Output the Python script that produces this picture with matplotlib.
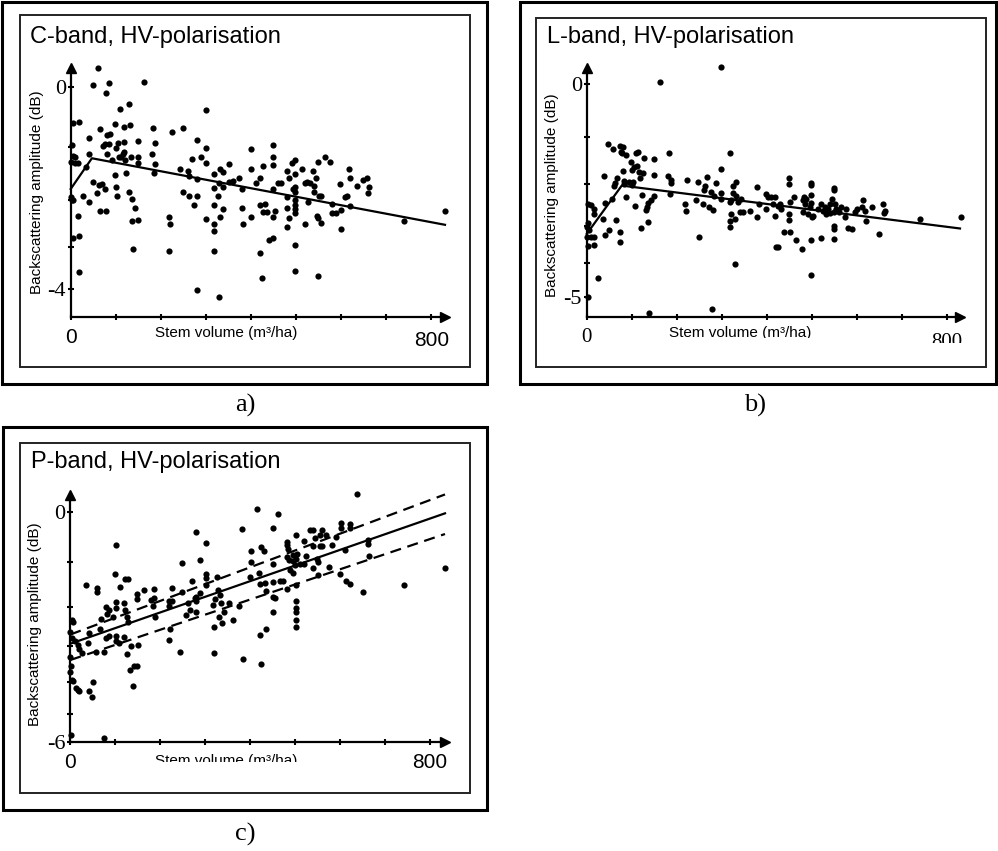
import numpy as np
import matplotlib.pyplot as plt
from matplotlib.patches import Rectangle
from matplotlib.transforms import Bbox, TransformedBbox
from matplotlib.ticker import NullLocator

W, H = 998, 851
SANS = "Liberation Sans"
SERIF = "Liberation Serif"

titles = ["C-band, HV-polarisation", "L-band, HV-polarisation", "P-band, HV-polarisation"]
captions = ["a)", "b)", "c)"]
ylabel = "Backscattering amplitude (dB)"
xlabel = "Stem volume (m³/ha)"
vol_ticks = [0, 100, 200, 300, 400, 500, 600, 700, 800]

# C-band (stem volume m3/ha, backscatter dB)
c_vol = [4, 18, 2, 6, 10, 1, 10, 17, 1, 4,
         2, 17, 4, 18, 18, 27, 35, 41, 41, 41,
         49, 50, 58, 60, 62, 64, 65, 69, 72, 75,
         77, 78, 78, 80, 81, 84, 86, 87, 91, 98,
         98, 100, 101, 103, 105, 108, 109, 111, 115, 118,
         118, 119, 120, 123, 129, 130, 132, 135, 133, 137,
         139, 143, 149, 149, 149, 150, 163, 180, 183, 185,
         188, 188, 219, 220, 219, 224, 242, 248, 248, 261,
         263, 263, 268, 274, 279, 279, 279, 279, 288, 299,
         299, 299, 299, 318, 318, 318, 318, 318, 318, 327,
         329, 329, 331, 331, 337, 337, 338, 350, 350, 361,
         374, 379, 379, 383, 399, 399, 399, 411, 420, 420,
         420, 425, 427, 427, 431, 435, 440, 448, 448, 448,
         448, 449, 449, 453, 460, 466, 479, 479, 479, 479,
         483, 485, 490, 494, 497, 497, 497, 497, 498, 498,
         498, 498, 498, 498, 512, 520, 520, 523, 527, 531,
         538, 539, 539, 545, 547, 549, 549, 549, 551, 556,
         556, 564, 575, 579, 579, 588, 597, 599, 599, 608,
         612, 618, 619, 619, 634, 649, 658, 660, 661, 739,
         830]
c_db = [-0.59, -0.58, -0.97, -1.16, -1.18, -1.28, -1.30, -1.30, -1.95, -2.00,
        -2.01, -2.33, -2.81, -2.76, -3.58, -1.92, -1.38, -0.84, -1.13, -2.05,
        0.04, -1.66, -1.87, 0.30, -1.72, -0.69, -2.23, -1.70, -0.99, -1.80,
        -0.96, -2.23, -0.10, -0.80, -1.13, -0.96, 0.06, -0.78, -1.24, -0.60,
        -1.53, -1.02, -1.76, -1.92, -0.93, -1.19, -0.35, -1.18, -1.13, -0.65,
        -0.92, -1.09, -1.25, -1.49, -0.27, -1.85, -0.62, -1.99, -1.19, -2.43,
        -3.05, -2.16, -0.90, -1.18, -1.30, -2.42, 0.09, -1.13, -0.67, -1.49,
        -0.93, -1.32, -2.35, -2.50, -3.10, -0.75, -1.40, -0.67, -1.84, -1.44,
        -1.54, -1.92, -1.22, -2.10, -0.88, -1.60, -1.92, -4.03, -1.18, -0.37,
        -1.03, -1.30, -2.40, -1.51, -1.78, -2.10, -2.51, -2.65, -3.10, -1.92,
        -1.68, -4.20, -1.41, -2.35, -1.46, -1.76, -2.19, -1.32, -1.66, -1.63,
        -1.57, -1.80, -2.16, -2.51, -1.05, -1.41, -2.35, -1.68, -1.57, -2.10,
        -3.15, -3.72, -1.35, -2.25, -2.09, -2.25, -2.85, -0.97, -1.19, -1.34,
        -1.80, -2.81, -2.35, -2.23, -1.68, -1.68, -1.44, -1.95, -2.16, -2.57,
        -1.57, -2.38, -1.30, -1.79, -1.24, -1.51, -1.76, -1.85, -2.01, -2.10,
        -2.19, -2.28, -2.97, -3.55, -1.41, -1.68, -2.50, -1.66, -2.05, -1.68,
        -1.44, -1.73, -1.85, -1.57, -2.33, -1.27, -2.38, -3.69, -1.92, -1.92,
        -2.48, -1.18, -1.28, -2.09, -2.28, -2.28, -1.70, -2.21, -2.62, -1.95,
        -1.92, -1.41, -1.57, -2.13, -1.73, -1.61, -1.57, -1.87, -1.76, -2.43,
        -2.23]
c_fit_vol = [0, 47, 830]
c_fit_db = [-1.79, -1.21, -2.52]

# L-band
l_vol = [299, 162, 4, 10, 16, 17, 4, 1, 6, 1,
         10, 17, 4, 17, 26, 4, 36, 39, 41, 41,
         48, 50, 56, 58, 60, 62, 65, 68, 73, 75,
         75, 76, 78, 80, 80, 82, 84, 88, 88, 93,
         99, 100, 101, 102, 106, 108, 110, 112, 115, 117,
         119, 121, 123, 125, 128, 131, 133, 136, 137, 143,
         149, 149, 149, 139, 180, 183, 188, 188, 186, 219,
         221, 223, 243, 247, 249, 258, 260, 263, 268, 273,
         277, 278, 280, 283, 288, 299, 299, 299, 318, 319,
         319, 319, 320, 321, 325, 326, 329, 329, 332, 332,
         336, 340, 342, 347, 362, 379, 379, 384, 399, 399,
         403, 410, 414, 418, 419, 421, 425, 425, 429, 433,
         439, 449, 449, 449, 449, 451, 453, 461, 466, 479,
         481, 481, 483, 485, 488, 492, 496, 499, 499, 499,
         499, 499, 499, 501, 503, 514, 520, 522, 525, 529,
         533, 536, 540, 542, 545, 549, 550, 550, 550, 550,
         550, 551, 555, 562, 566, 575, 577, 581, 590, 596,
         600, 611, 614, 618, 620, 634, 650, 659, 661, 664,
         741, 832]
l_db = [0.30, 0.04, -2.46, -2.49, -2.57, -2.69, -2.93, -3.01, -3.10, -3.28,
        -3.29, -3.28, -3.53, -3.48, -4.41, -5.00, -2.83, -1.82, -2.43, -3.23,
        -1.14, -3.10, -2.34, -1.23, -2.03, -1.97, -2.85, -1.87, -3.14, -1.18,
        -3.41, -1.30, -1.33, -1.71, -1.19, -1.92, -1.99, -2.29, -1.37, -1.96,
        -1.51, -1.69, -2.01, -1.96, -1.62, -2.50, -1.33, -1.60, -1.30, -1.72,
        -1.87, -3.04, -2.25, -1.76, -1.42, -2.59, -2.54, -2.90, -2.43, -2.37,
        -1.44, -1.79, -2.27, -5.54, -1.81, -1.32, -1.90, -1.97, -2.22, -2.46,
        -2.62, -1.90, -2.37, -1.94, -3.29, -2.46, -2.13, -2.05, -1.83, -2.53,
        -2.17, -5.41, -2.59, -2.27, -1.97, -1.67, -2.21, -2.35, -1.33, -2.41,
        -2.87, -3.01, -2.69, -2.37, -2.05, -2.19, -4.02, -2.81, -1.94, -2.27,
        -2.41, -2.66, -2.33, -2.66, -2.62, -2.07, -2.77, -2.45, -2.22, -2.58,
        -2.29, -2.29, -2.46, -2.29, -2.75, -3.54, -3.54, -2.51, -2.46, -2.57,
        -3.14, -1.87, -1.99, -2.71, -2.85, -3.16, -2.41, -2.30, -3.35, -3.59,
        -2.37, -2.65, -2.29, -2.45, -2.35, -2.69, -2.54, -1.97, -2.02, -2.25,
        -2.43, -4.34, -3.37, -2.78, -2.75, -2.57, -3.30, -2.45, -2.62, -2.53,
        -2.69, -2.57, -2.46, -2.67, -2.35, -2.09, -2.13, -2.65, -2.99, -3.08,
        -3.32, -2.46, -2.57, -2.65, -2.54, -2.78, -2.57, -3.05, -3.08, -2.65,
        -2.57, -2.54, -2.37, -2.62, -2.86, -2.54, -3.21, -2.45, -2.67, -2.62,
        -2.81, -2.78]
l_fit_vol = [0, 78, 830]
l_fit_db = [-3.20, -2.03, -3.06]

# P-band
p_vol = [637, 414, 462, 381, 280, 301, 601, 601, 622, 622,
         101, 450, 533, 540, 544, 554, 559, 568, 591, 502,
         481, 481, 485, 520, 540, 554, 559, 582, 611, 661,
         661, 663, 401, 401, 425, 430, 288, 249, 450, 481,
         487, 496, 496, 499, 502, 505, 511, 519, 525, 548,
         551, 576, 540, 488, 494, 551, 600, 614, 622, 833,
         742, 651, 481, 502, 420, 421, 433, 436, 450, 450,
         455, 466, 399, 301, 301, 326, 301, 270, 288, 280,
         280, 249, 225, 220, 186, 186, 163, 149, 149, 128,
         121, 99, 110, 59, 59, 36, 101, 119, 121, 102,
         79, 86, 82, 95, 69, 125, 128, 180, 184, 188,
         225, 220, 262, 266, 258, 277, 280, 318, 321, 329,
         332, 336, 341, 352, 331, 338, 362, 319, 375, 436,
         421, 450, 502, 502, 502, 502, 502, 473, 221, 220,
         243, 320, 384, 425, 4, 7, 0, 4, 10, 18,
         19, 27, 39, 42, 58, 65, 75, 79, 86, 102,
         101, 108, 119, 125, 132, 134, 142, 149, 151, 139,
         0, 2, 0, 4, 7, 12, 18, 19, 42, 49,
         50, 2, 74]
p_db = [0.33, 0.05, -0.05, -0.34, -0.40, -0.60, -0.21, -0.32, -0.23, -0.31,
        -0.65, -0.32, -0.35, -0.35, -0.50, -0.44, -0.36, -0.44, -0.48, -0.44,
        -0.58, -0.66, -0.74, -0.56, -0.68, -0.68, -0.68, -0.66, -0.76, -0.54,
        -0.64, -0.87, -0.78, -1.01, -0.70, -0.78, -0.95, -1.03, -1.04, -0.89,
        -0.97, -0.86, -0.99, -1.07, -0.93, -0.83, -1.04, -1.04, -0.87, -0.93,
        -1.01, -1.10, -1.14, -1.18, -1.24, -1.29, -1.25, -1.41, -1.47, -1.12,
        -1.51, -1.66, -1.59, -1.50, -1.23, -1.47, -1.46, -1.64, -1.44, -1.77,
        -1.81, -1.41, -1.32, -1.26, -1.34, -1.32, -1.50, -1.41, -1.68, -1.77,
        -1.86, -1.67, -1.56, -1.88, -1.60, -1.79, -1.62, -1.71, -1.83, -1.36,
        -1.36, -1.26, -1.55, -1.56, -1.67, -1.50, -1.90, -1.92, -2.08, -2.03,
        -2.01, -2.08, -2.18, -2.24, -2.31, -2.24, -2.37, -1.84, -1.98, -2.24,
        -1.88, -1.99, -1.92, -2.08, -2.20, -1.81, -2.14, -1.96, -1.83, -1.61,
        -1.73, -1.92, -2.12, -1.92, -2.26, -2.39, -2.33, -2.51, -1.98, -2.56,
        -2.70, -2.14, -1.88, -2.03, -2.14, -2.33, -2.51, -1.41, -2.54, -2.82,
        -3.16, -3.17, -3.33, -3.49, -2.33, -2.37, -2.62, -2.79, -2.87, -2.96,
        -3.07, -3.19, -2.92, -2.66, -3.14, -2.56, -3.14, -2.79, -2.73, -2.73,
        -2.87, -2.90, -2.76, -3.21, -3.65, -3.00, -3.54, -3.54, -2.96, -4.12,
        -3.28, -3.54, -3.70, -3.95, -3.98, -4.19, -4.24, -4.29, -4.27, -4.45,
        -4.00, -5.74, -5.86]
p_fit_vol = [0, 833]
p_fit_db = [-2.93, -0.03]
p_hi_db = [-2.69, 0.32]
p_lo_db = [-3.37, -0.43]


# the y axes of the original are linear in amplitude, labelled in dB
def amp(d):
    return 10 ** (np.asarray(d, dtype=float) / 20.0)


def to_db(a):
    return 20 * np.log10(np.clip(a, 1e-9, None))


fig = plt.figure(figsize=(W / 100, H / 100), dpi=100)


def frame(x0, y0, x1, y1, lw, color="k"):
    fig.add_artist(Rectangle((x0 / W, 1 - y1 / H), (x1 - x0) / W, (y1 - y0) / H,
                             transform=fig.transFigure, fill=False, lw=lw, ec=color))


def ftext(x, y, s, **kw):
    return fig.text(x / W, 1 - y / H, s, **kw)


def clip_below(t, y):
    bb = TransformedBbox(Bbox.from_extents(0, 1 - y / H, 1, 1), fig.transFigure)
    t.set_clip_box(bb)
    t.set_clip_on(True)


def make_axes(left, top, right, bottom, xmax, ylim, ymin_tick, xfont, off0, off800, clip=None):
    ax = fig.add_axes([left / W, 1 - bottom / H, (right - left) / W, (bottom - top) / H])
    ax.set_yscale("function", functions=(amp, to_db))
    ax.set_xlim(0, xmax)
    ax.set_ylim(*ylim)
    ax.patch.set_visible(False)
    for s in ("top", "right"):
        ax.spines[s].set_visible(False)
    for s in ("left", "bottom"):
        ax.spines[s].set_linewidth(1.6)
    ax.set_xticks(vol_ticks)
    ax.set_xticklabels([])
    yt = list(range(0, ymin_tick - 1, -1))
    ax.set_yticks(yt)
    ax.set_yticklabels(["0"] + [""] * (len(yt) - 2) + [str(ymin_tick)],
                       fontfamily=SERIF, fontsize=16)
    ax.yaxis.set_minor_locator(NullLocator())
    ax.tick_params(direction="inout", length=5, width=1.5, pad=1)
    ax.plot([1], [0], marker=">", ms=7, color="k", transform=ax.transAxes, clip_on=False)
    ax.plot([0], [1], marker="^", ms=7, color="k", transform=ax.transAxes, clip_on=False)
    axh = bottom - top
    t0 = ax.text(0, -off0 / axh, "0", transform=ax.get_xaxis_transform(),
                 ha="center", va="top", fontfamily=xfont, fontsize=15)
    t8 = ax.text(800, -off800 / axh, "800", transform=ax.get_xaxis_transform(),
                 ha="center", va="top", fontfamily=xfont, fontsize=15)
    if clip is not None:
        clip_below(t8, clip)
    return ax


# frames
frame(2, 2, 487, 384, 2.2)
frame(20, 15, 470, 367, 1.4, "#222222")
frame(520, 2, 996, 384, 2.2)
frame(536, 18, 986, 367, 1.4, "#222222")
frame(3, 427, 487, 810, 2.2)
frame(20, 443, 470, 793, 1.4, "#222222")

dot = dict(s=20, c="k", lw=0, clip_on=False, zorder=3)

# a) C-band
ax = make_axes(70.7, 68, 445, 317, 830, (-4.74, 0.30), -4, SANS, 11, 14)
ax.scatter(c_vol, c_db, **dot)
ax.plot(c_fit_vol, c_fit_db, color="k", lw=1.6, clip_on=False)
ftext(30, 43, titles[0], fontfamily=SANS, fontsize=17, va="baseline")
ftext(37, 192, ylabel, fontfamily=SANS, fontsize=11, rotation=90, ha="center", va="center")
ftext(226, 337, xlabel, fontfamily=SANS, fontsize=11, ha="center", va="baseline")
ftext(245, 405, captions[0], fontfamily=SERIF, fontsize=19, ha="center", va="center")

# b) L-band
ax = make_axes(586.7, 68, 960, 316.7, 830, (-5.66, 0.29), -5, SERIF, 11, 16, clip=343)
ax.scatter(l_vol, l_db, **dot)
ax.plot(l_fit_vol, l_fit_db, color="k", lw=1.6, clip_on=False)
ftext(547, 43, titles[1], fontfamily=SANS, fontsize=17, va="baseline")
ftext(552, 195, ylabel, fontfamily=SANS, fontsize=11, rotation=90, ha="center", va="center")
t = ftext(740, 337, xlabel, fontfamily=SANS, fontsize=11, ha="center", va="baseline")
clip_below(t, 338)
ftext(755, 405, captions[1], fontfamily=SERIF, fontsize=19, ha="center", va="center")

# c) P-band
ax = make_axes(70.3, 495, 445, 741.7, 833, (-6, 0.31), -6, SANS, 11, 11)
ax.scatter(p_vol, p_db, **dot)
ax.plot(p_fit_vol, p_fit_db, color="k", lw=1.6, clip_on=False)
ax.plot(p_fit_vol, p_hi_db, color="k", lw=1.6, ls=(0, (5, 3)), clip_on=False)
ax.plot(p_fit_vol, p_lo_db, color="k", lw=1.6, ls=(0, (5, 3)), clip_on=False)
ftext(31, 468, titles[2], fontfamily=SANS, fontsize=17, va="baseline")
ftext(35, 624, ylabel, fontfamily=SANS, fontsize=11, rotation=90, ha="center", va="center")
t = ftext(226, 765, xlabel, fontfamily=SANS, fontsize=11, ha="center", va="baseline")
clip_below(t, 762)
ftext(245, 834, captions[2], fontfamily=SERIF, fontsize=19, ha="center", va="center")

fig.savefig("out.png", dpi=100)
